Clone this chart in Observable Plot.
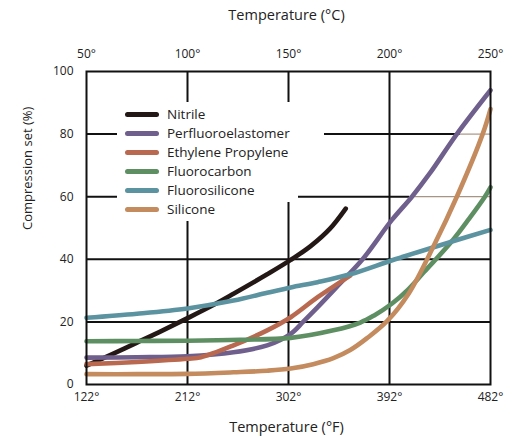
<!DOCTYPE html>
<html>
<head>
<meta charset="utf-8">
<script src="https://cdn.jsdelivr.net/npm/d3@7"></script>
<script src="https://cdn.jsdelivr.net/npm/@observablehq/plot@0.6"></script>
<style>
  html, body { margin: 0; padding: 0; background: #fff; }
  #wrap { position: relative; width: 527px; height: 437px; font-family: "Open Sans", sans-serif; }
  #wrap svg { display: block; }
  .mask { position: absolute; background: #fff; }
  .leg { position: absolute; left: 125px; font-size: 13.5px; color: #222; display: flex; align-items: center; height: 19px; white-space: nowrap; }
  .leg .sw { width: 34px; height: 5px; border-radius: 3px; margin-right: 8px; }
</style>
</head>
<body>
<div id="wrap"></div>
<script>
// ---- data (x in °F, y = compression set %) ----
const series = ["Nitrile", "Perfluoroelastomer", "Ethylene Propylene", "Fluorocarbon", "Fluorosilicone", "Silicone"];
const colors = ["#231815", "#6f5f8c", "#b9694f", "#5e8f63", "#5b93a0", "#c38b5e"];

const nitrileF = [122, 145, 167, 190, 212, 235, 253, 283, 304, 322, 339, 353];
const nitrileV = [6, 9.7, 13.4, 17.3, 21.2, 25.4, 29, 35.2, 39.8, 44.3, 49.8, 56.2];

const perfluoroF = [122, 167, 212, 253, 283, 304, 315, 328, 348, 368, 394, 412, 428, 452, 482];
const perfluoroV = [8.6, 8.7, 9, 10.3, 12.5, 16.2, 20, 24.7, 32.3, 40, 52.5, 60, 67.5, 80, 94];

const ethyleneF = [122, 167, 212, 224, 253, 283, 304, 328, 357];
const ethyleneV = [6.5, 7.2, 8.2, 8.7, 12.5, 17.3, 21.5, 27.9, 34.8];

const fluorocarbonF = [122, 167, 212, 259, 304, 342, 366, 378, 394, 409, 423, 447, 463, 477, 482];
const fluorocarbonV = [13.8, 13.9, 14, 14.3, 14.9, 17.3, 19.8, 22, 25.8, 30.5, 36, 45.5, 53, 60, 63];

const fluorosiliconeF = [122, 167, 212, 253, 283, 304, 328, 357, 397, 447, 482];
const fluorosiliconeV = [21.3, 22.6, 24.3, 26.8, 29.3, 31, 32.7, 35.2, 40, 45.6, 49.4];

const siliconeF = [122, 167, 212, 253, 283, 304, 324, 342, 357, 372, 390, 409, 431, 452, 475, 482];
const siliconeV = [3.3, 3.3, 3.4, 3.9, 4.4, 5.1, 6.5, 8.4, 11, 14.8, 20.3, 29, 44, 60, 80, 88];

const seriesF = [nitrileF, perfluoroF, ethyleneF, fluorocarbonF, fluorosiliconeF, siliconeF];
const seriesV = [nitrileV, perfluoroV, ethyleneV, fluorocarbonV, fluorosiliconeV, siliconeV];

// ---- axes / ticks ----
const fTicks = [122, 212, 302, 392, 482];
const fTickLabels = ["122°", "212°", "302°", "392°", "482°"];
const cTickLabels = ["50°", "100°", "150°", "200°", "250°"];
const yTicks = [0, 20, 40, 60, 80, 100];
const xGridF = [212, 302, 392];
const yGridFull = [20, 40];
const xTitleTop = "Temperature (°C)";
const xTitleBottom = "Temperature (°F)";
const yTitle = "Compression set (%)";
// horizontal grid lines at 80 and 60: black part then thin brownish part
const gridSplit = [{y: 80, split: 455}, {y: 60, split: 410}];

const rows = [];
series.forEach((s, i) => seriesF[i].forEach((f, j) => rows.push({series: s, f, v: seriesV[i][j]})));

const font = "'Open Sans', sans-serif";
const chart = Plot.plot({
  width: 527,
  height: 437,
  marginTop: 71,
  marginBottom: 53,
  marginLeft: 86,
  marginRight: 37,
  style: {fontFamily: font, fontSize: "12px", color: "#222", background: "#fff", overflow: "visible"},
  x: {domain: [122, 482]},
  y: {domain: [0, 100]},
  color: {domain: series, range: colors},
  marks: [
    Plot.ruleX(xGridF, {stroke: "#111", strokeWidth: 2}),
    Plot.ruleY(yGridFull, {stroke: "#111", strokeWidth: 2}),
    Plot.ruleY(gridSplit, {y: "y", x1: 122, x2: "split", stroke: "#111", strokeWidth: 2}),
    Plot.ruleY(gridSplit, {y: "y", x1: "split", x2: 482, stroke: "#a89484", strokeWidth: 1.2}),
    Plot.line(rows, {x: "f", y: "v", z: "series", stroke: "series", strokeWidth: 4.6, curve: "catmull-rom", strokeLinecap: "round"}),
    Plot.frame({stroke: "#111", strokeWidth: 2}),
    Plot.axisX(fTicks, {anchor: "bottom", tickSize: 0, tickPadding: 8, tickFormat: (d) => fTickLabels[fTicks.indexOf(d)], label: null, fontSize: 12}),
    Plot.axisX(fTicks, {anchor: "top", tickSize: 0, tickPadding: 14, tickFormat: (d) => cTickLabels[fTicks.indexOf(d)], label: null, fontSize: 12}),
    Plot.axisY(yTicks, {anchor: "left", tickSize: 0, tickPadding: 13, label: null, fontSize: 12}),
    Plot.text([xTitleTop], {frameAnchor: "top", dy: -56, dx: -2, text: d => d, fontSize: 14.5, fill: "#222", lineAnchor: "middle"}),
    Plot.text([xTitleBottom], {frameAnchor: "bottom", dy: 43, dx: -2, text: d => d, fontSize: 14.5, fill: "#222", lineAnchor: "middle"}),
    Plot.text([yTitle], {frameAnchor: "left", dx: -59, dy: 2, rotate: -90, text: d => d, fontSize: 13, fill: "#222", lineAnchor: "middle"})
  ]
});

const wrap = document.getElementById("wrap");
wrap.appendChild(chart);

// legend (with white background masking grid lines, as in the reference)
const masks = [
  {l: 117, t: 102, w: 207, h: 39},
  {l: 117, t: 140, w: 181, h: 62},
  {l: 117, t: 201, w: 110, h: 20}
];
masks.forEach(m => {
  const d = document.createElement("div");
  d.className = "mask";
  Object.assign(d.style, {left: m.l + "px", top: m.t + "px", width: m.w + "px", height: m.h + "px"});
  wrap.appendChild(d);
});
series.forEach((s, i) => {
  const d = document.createElement("div");
  d.className = "leg";
  d.style.top = (104.5 + i * 19) + "px";
  d.innerHTML = `<span class="sw" style="background:${colors[i]}"></span><span>${s}</span>`;
  wrap.appendChild(d);
});
</script>
</body>
</html>
